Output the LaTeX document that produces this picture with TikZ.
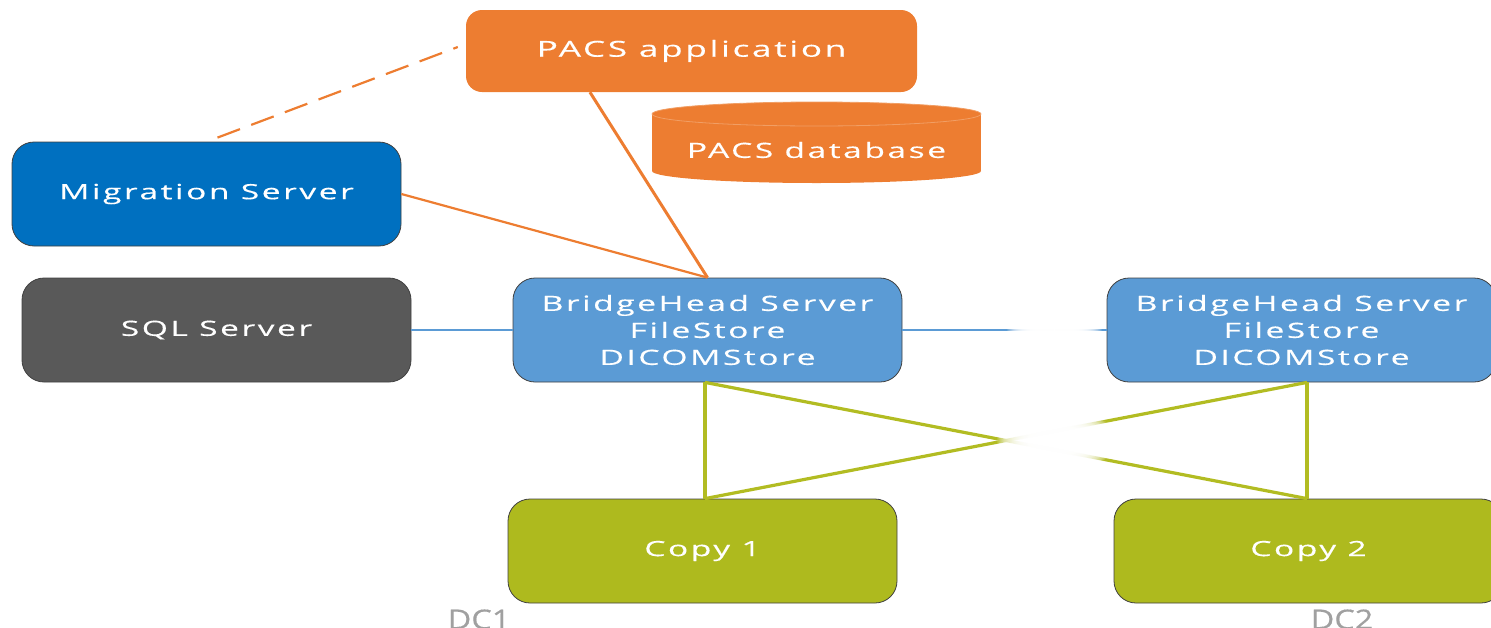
\documentclass[tikz,border=0pt]{standalone}
\usepackage{fontspec}
\setmainfont{Open Sans}[FakeStretch=1.6, LetterSpace=12, FakeBold=0.3]
\newfontfamily\dcfont{Open Sans}[FakeStretch=1.2, FakeBold=0.5]
\usetikzlibrary{fadings,calc}
\definecolor{pacsorange}{HTML}{ED7D31}
\definecolor{migblue}{HTML}{0070C0}
\definecolor{sqlgray}{HTML}{595959}
\definecolor{bhblue}{HTML}{5B9BD5}
\definecolor{copygreen}{HTML}{AEBA1E}
\definecolor{greenline}{HTML}{B2BC22}
\definecolor{blueline}{HTML}{5B9BD5}
\definecolor{dcgray}{HTML}{A0A0A0}
\tikzfading[name=softspot, inner color=transparent!0, outer color=transparent!100]
\tikzfading[name=hmid, left color=transparent!100, right color=transparent!100, middle color=transparent!0]
\begin{document}
\begin{tikzpicture}[x=1pt,y=-1pt,
  box/.style={rounded corners=22pt, minimum width=389pt, minimum height=104pt,
    text=white, draw=black!75, line width=0.8pt, align=center, inner sep=0pt,
    font=\fontsize{21}{27}\selectfont},
  orangebox/.style={rounded corners=16pt, minimum width=451pt, minimum height=82pt,
    fill=pacsorange, text=white, inner sep=0pt, font=\fontsize{22}{27}\selectfont},
  orangeline/.style={draw=pacsorange, line width=2.2pt},
  blueconn/.style={draw=blueline, line width=2.2pt},
  greenconn/.style={draw=greenline, line width=3.2pt},
  dclabel/.style={text=dcgray, font=\dcfont\fontsize{27}{30}\selectfont, anchor=base, inner sep=0pt}
]
\useasboundingbox (0,0) rectangle (1491,627);

% PACS database cylinder
\fill[pacsorange] (652,114) rectangle (981,171);
\fill[pacsorange] (816.5,171) ellipse [x radius=164.5, y radius=12];
\fill[pacsorange] (816.5,114) ellipse [x radius=164.5, y radius=12];
\draw[pacsorange!75!white, line width=0.8pt] (816.5,114) ellipse [x radius=164.5, y radius=12];
\node[text=white, inner sep=0pt, font=\fontsize{21}{27}\selectfont] (pacsdb) at (816.5,150) {PACS database};

% boxes
\node[orangebox] (pacsapp) at (691.5,51) {PACS application};
\node[box, fill=migblue] (mig) at (206.5,194) {Migration Server};
\node[box, fill=sqlgray] (sql) at (216.5,330) {SQL Server};
\node[box, fill=bhblue] (bh1) at (707.5,330) {BridgeHead Server\\FileStore\\DICOMStore};
\node[box, fill=bhblue] (bh2) at (1301.5,330) {BridgeHead Server\\FileStore\\DICOMStore};
\node[box, fill=copygreen] (copy1) at (702.5,551) {Copy 1};
\node[box, fill=copygreen] (copy2) at (1308.5,551) {Copy 2};

% DC labels
\node[dclabel] (dc1) at (479,629) {DC1};
\node[dclabel] (dc2) at (1342,629) {DC2};

% connector end points
\coordinate (b1) at ($(bh1.south)+(-2.5,0)$);
\coordinate (c1) at ($(copy1.north)+(2.5,0)$);
\coordinate (b2) at ($(bh2.south)+(5.5,0)$);
\coordinate (c2) at ($(copy2.north)+(-1.5,0)$);
\coordinate (pa) at ($(pacsapp.south west)!0.275!(pacsapp.south east)$);
\coordinate (ms) at ($(mig.north)+(11,-4)$);
\coordinate (pw) at ($(pacsapp.west)+(-8,-4)$);

% orange connectors
\draw[orangeline, dash pattern=on 24pt off 12pt] (ms) -- (pw);
\draw[orangeline, line width=3pt] (pa) -- (bh1.north);
\draw[orangeline] (mig.east) -- (bh1.north);

% blue connectors
\draw[blueconn] (sql.east) -- (bh1.west);
\draw[blueconn] (bh1.east) -- (bh2.west);

% green connectors
\draw[greenconn] (b1) -- (c1);
\draw[greenconn] (b2) -- (c2);
\draw[greenconn] (b1) -- (c2);
\draw[greenconn] (c1) -- (b2);

% fades
\foreach \k in {1,...,6}{
  \fill[white, path fading=hmid] (1006,323) rectangle (1102,339);
  \fill[white, path fading=softspot] (1056,440) ellipse [x radius=60, y radius=34];
}
\end{tikzpicture}
\end{document}
